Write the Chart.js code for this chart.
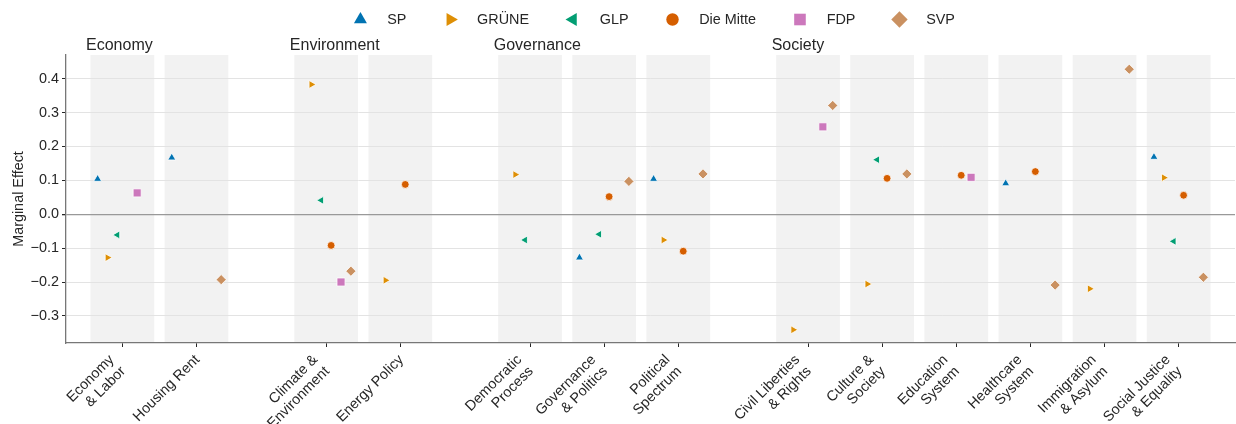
<!DOCTYPE html>
<html>
<head>
<meta charset="utf-8">
<script src="https://cdn.jsdelivr.net/npm/chart.js@4.4.1/dist/chart.umd.min.js"></script>
<style>
  html, body { margin: 0; padding: 0; background: #fff; }
</style>
</head>
<body>
<canvas id="marginal_effect" width="1236" height="424"></canvas>
<script>
// topic groups (label above the plot) and how many categories each holds
let groups = ['Economy', 'Environment', 'Governance', 'Society'];
let group_sizes = [2, 2, 3, 6];

let categories = [
    ['Economy', '& Labor'], ['Housing Rent'],
    ['Climate &', 'Environment'], ['Energy Policy'],
    ['Democratic', 'Process'], ['Governance', '& Politics'], ['Political', 'Spectrum'],
    ['Civil Liberties', '& Rights'], ['Culture &', 'Society'], ['Education', 'System'],
    ['Healthcare', 'System'], ['Immigration', '& Asylum'], ['Social Justice', '& Equality']
];

let parties = ['SP', 'GRÜNE', 'GLP', 'Die Mitte', 'FDP', 'SVP'];

// marginal effect per category (null = not shown)
let sp_values     = [0.104, 0.167, null, null, null, -0.128, 0.104, null, null, null, 0.091, null, 0.169];
let gruene_values = [-0.128, null, 0.383, -0.195, 0.117, null, -0.076, -0.341, -0.206, null, null, -0.220, 0.108];
let glp_values    = [-0.061, null, 0.041, null, -0.076, -0.059, null, null, 0.161, null, null, null, -0.080];
let mitte_values  = [null, null, -0.092, 0.088, null, 0.052, -0.109, null, 0.106, 0.115, 0.126, null, 0.056];
let fdp_values    = [0.063, null, -0.200, null, null, null, null, 0.258, null, 0.109, null, null, null];
let svp_values    = [null, -0.193, -0.168, null, null, 0.097, 0.119, 0.321, 0.119, null, -0.209, 0.428, -0.186];

let y_ticks = [-0.3, -0.2, -0.1, 0.0, 0.1, 0.2, 0.3, 0.4];

let party_values = [sp_values, gruene_values, glp_values, mitte_values, fdp_values, svp_values];
let party_colors = ['#0173B2', '#DE8F05', '#029E73', '#D55E00', '#CC78BC', '#CA9161'];
let party_styles = ['triangle', 'triangle', 'triangle', 'circle', 'rect', 'rectRot'];
let party_rotation = [0, 90, -90, 0, 0, 0];
let party_radius = [4.6, 4.6, 4.6, 3.9, 5.7, 5.1];
let legend_radius = [7.5, 7.5, 7.5, 6.2, 8.2, 8.2];

const FONT = '"Liberation Sans", Arial, Helvetica, sans-serif';
const TEXT = '#262626';

// x position of each category: groups are separated by an extra gap
let cat_pos = [];
let group_start = [];
let p = 0;
group_sizes.forEach(function (n) {
    group_start.push(p);
    for (let i = 0; i < n; i++) { cat_pos.push(p); p += 1; }
    p += 0.75;
});

let datasets = parties.map(function (name, k) {
    let offset = (k - 2.5) * (0.8 / 6);
    let pts = [];
    party_values[k].forEach(function (v, i) {
        if (v !== null) pts.push({x: cat_pos[i] + offset, y: v});
    });
    return {
        label: name,
        data: pts,
        backgroundColor: party_colors[k],
        borderColor: '#ffffff',
        borderWidth: 0.8,
        pointStyle: party_styles[k],
        rotation: party_rotation[k],
        pointRadius: party_radius[k],
        pointHoverRadius: party_radius[k]
    };
});

// grey band behind every category
let bands_plugin = {
    id: 'bands',
    beforeDraw: function (chart) {
        let ctx = chart.ctx, xs = chart.scales.x, area = chart.chartArea;
        ctx.save();
        ctx.fillStyle = '#f2f2f2';
        cat_pos.forEach(function (c) {
            let x0 = xs.getPixelForValue(c - 0.43), x1 = xs.getPixelForValue(c + 0.43);
            ctx.fillRect(x0, area.top, x1 - x0, area.bottom - area.top);
        });
        ctx.restore();
    }
};

// rotated category labels, right aligned, last line ending at the tick
let xlabels_plugin = {
    id: 'xlabels',
    afterDraw: function (chart) {
        let ctx = chart.ctx, xs = chart.scales.x, area = chart.chartArea;
        let step = 11.6;
        ctx.save();
        ctx.font = '14.4px ' + FONT;
        ctx.fillStyle = TEXT;
        ctx.textAlign = 'right';
        ctx.textBaseline = 'middle';
        cat_pos.forEach(function (c, k) {
            let lines = categories[k], n = lines.length, tx = xs.getPixelForValue(c);
            lines.forEach(function (line, i) {
                let ex = tx + 1 - (n - 1 - i) * step;
                let ey = area.bottom + 14.5 + i * step;
                ctx.save();
                ctx.translate(ex, ey);
                ctx.rotate(-Math.PI / 4);
                ctx.fillText(line, 0, 0);
                ctx.restore();
            });
        });
        ctx.restore();
    }
};

// group titles + legend on top
let header_plugin = {
    id: 'header',
    afterDraw: function (chart) {
        let ctx = chart.ctx, xs = chart.scales.x, area = chart.chartArea;
        ctx.save();
        ctx.fillStyle = TEXT;
        ctx.font = '16px ' + FONT;
        ctx.textAlign = 'left';
        ctx.textBaseline = 'alphabetic';
        groups.forEach(function (g, i) {
            ctx.fillText(g, xs.getPixelForValue(group_start[i] - 0.49), 49.5);
        });

        let fs = 14.4, half = 14.4, gap = 12.3, colsp = 29.6;
        ctx.font = fs + 'px ' + FONT;
        let widths = parties.map(function (t) { return ctx.measureText(t).width; });
        let total = 0;
        widths.forEach(function (w) { total += 2 * half + gap + w; });
        total += colsp * (parties.length - 1);
        let x = (area.left + area.right) / 2 - total / 2;
        let y = 19.5;
        ctx.textBaseline = 'middle';
        parties.forEach(function (t, k) {
            ctx.fillStyle = party_colors[k];
            ctx.strokeStyle = party_colors[k];
            Chart.helpers.drawPoint(ctx, {
                pointStyle: party_styles[k],
                rotation: party_rotation[k],
                radius: legend_radius[k],
                borderWidth: 0
            }, x + half, y);
            ctx.fillStyle = TEXT;
            ctx.fillText(t, x + 2 * half + gap, y + 1);
            x += 2 * half + gap + widths[k] + colsp;
        });
        ctx.restore();
    }
};

let config = {
    type: 'scatter',
    data: { datasets: datasets },
    options: {
        responsive: false,
        animation: false,
        devicePixelRatio: 1,
        layout: { autoPadding: false, padding: { top: 55, right: 1, left: 0, bottom: 0 } },
        plugins: {
            legend: { display: false },
            tooltip: { enabled: false }
        },
        scales: {
            x: {
                type: 'linear',
                min: -0.76,
                max: cat_pos[cat_pos.length - 1] + 0.76,
                afterBuildTicks: function (scale) {
                    scale.ticks = cat_pos.map(function (v) { return {value: v}; });
                },
                afterFit: function (scale) {
                    scale.height = 81;
                    scale.paddingLeft = 0;
                    scale.paddingRight = 0;
                },
                ticks: { display: false, autoSkip: false },
                grid: { drawOnChartArea: false, tickLength: 4, tickColor: TEXT, tickWidth: 1 },
                border: { color: '#777777', width: 1.3 }
            },
            y: {
                min: -0.38,
                max: 0.47,
                afterBuildTicks: function (scale) {
                    scale.ticks = y_ticks.map(function (v) { return {value: v}; });
                },
                afterFit: function (scale) {
                    scale.width = 66;
                    scale.paddingTop = 0;
                    scale.paddingBottom = 0;
                },
                title: {
                    display: true,
                    text: 'Marginal Effect',
                    color: TEXT,
                    font: { family: FONT, size: 14.4 },
                    padding: { top: 10, bottom: 0 }
                },
                ticks: {
                    padding: 3,
                    color: TEXT,
                    font: { family: FONT, size: 14.4 },
                    callback: function (value) {
                        return value.toFixed(1).replace('-', '\u2212');
                    }
                },
                grid: {
                    tickLength: 4,
                    tickColor: TEXT,
                    color: function (ctx) {
                        return ctx.tick && Math.abs(ctx.tick.value) < 1e-9 ? '#999999' : '#e3e3e3';
                    },
                    lineWidth: function (ctx) {
                        return ctx.tick && Math.abs(ctx.tick.value) < 1e-9 ? 1.3 : 1;
                    }
                },
                border: { color: '#777777', width: 1.3 }
            }
        }
    },
    plugins: [bands_plugin, xlabels_plugin, header_plugin]
};

let marginal_effect_chart = new Chart(document.getElementById('marginal_effect'), config);
</script>
</body>
</html>
